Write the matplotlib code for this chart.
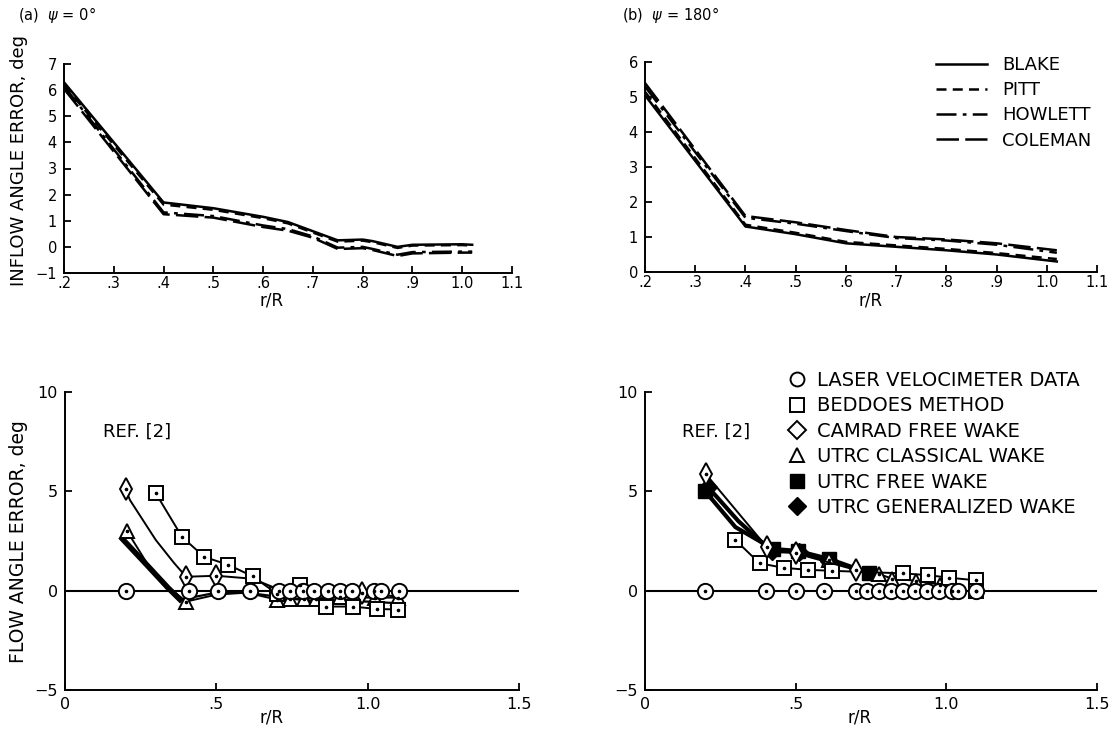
"""Inflow / flow angle error vs r/R, two azimuths (psi = 0 and 180 deg)"""

import matplotlib
matplotlib.use('Agg')
import matplotlib.pyplot as plt
from matplotlib.lines import Line2D

plt.rcParams['font.family'] = 'DejaVu Sans'
plt.rcParams['axes.linewidth'] = 1.4

# ---- top panels: inflow angle error for four inflow models ----
r_a = [0.2, 0.4, 0.5, 0.6, 0.65, 0.7, 0.75, 0.8, 0.82, 0.87, 0.9, 1.0, 1.02]
blake_a = [6.30, 1.70, 1.48, 1.15, 0.95, 0.60, 0.25, 0.28, 0.22, 0.00, 0.08, 0.10, 0.08]
pitt_a = [6.20, 1.62, 1.42, 1.10, 0.90, 0.55, 0.20, 0.24, 0.18, -0.04, 0.05, 0.07, 0.05]
howlett_a = [6.15, 1.32, 1.18, 0.82, 0.68, 0.40, -0.03, 0.00, -0.08, -0.30, -0.20, -0.18, -0.18]
coleman_a = [6.05, 1.25, 1.12, 0.76, 0.62, 0.35, -0.08, -0.05, -0.12, -0.35, -0.25, -0.22, -0.22]

r_b = [0.2, 0.4, 0.5, 0.6, 0.7, 0.8, 0.9, 1.02]
blake_b = [5.05, 1.30, 1.08, 0.82, 0.72, 0.62, 0.50, 0.30]
pitt_b = [5.15, 1.35, 1.12, 0.86, 0.76, 0.66, 0.54, 0.37]
howlett_b = [5.30, 1.55, 1.38, 1.17, 0.97, 0.90, 0.78, 0.55]
coleman_b = [5.40, 1.60, 1.42, 1.20, 1.00, 0.93, 0.82, 0.62]

model_names = ['BLAKE', 'PITT', 'HOWLETT', 'COLEMAN']
top_ticks = [0.2, 0.3, 0.4, 0.5, 0.6, 0.7, 0.8, 0.9, 1.0, 1.1]
top_ticklabels = ['.2', '.3', '.4', '.5', '.6', '.7', '.8', '.9', '1.0', '1.1']

# ---- bottom panels: flow angle error, REF. [2] ----
# psi = 0
lv_a_r = [0.20, 0.41, 0.505, 0.61, 0.707, 0.745, 0.785, 0.824, 0.869, 0.908, 0.947, 1.02, 1.045, 1.103]
bed_a_r = [0.30, 0.387, 0.46, 0.54, 0.62, 0.70, 0.776, 0.862, 0.95, 1.03, 1.10]
bed_a = [4.9, 2.7, 1.7, 1.3, 0.72, -0.15, 0.30, -0.80, -0.80, -0.92, -0.95]
cam_a_r = [0.20, 0.40, 0.50, 0.98]
cam_a = [5.1, 0.7, 0.75, -0.1]
cam_a_line_r = [0.20, 0.215, 0.30, 0.36, 0.40, 0.50, 0.62, 0.70, 0.98, 1.10]
cam_a_line = [5.1, 4.55, 2.55, 1.4, 0.7, 0.75, 0.6, 0.1, -0.1, -0.3]
cls_a_r = [0.205, 0.40, 0.70, 0.745, 0.79, 0.83, 0.91, 1.025, 1.10]
cls_a = [3.0, -0.55, -0.45, -0.40, -0.40, -0.40, -0.30, -0.35, -0.35]
cls_a_line_r = [0.205, 0.27, 0.34, 0.40, 0.50, 0.60, 0.70, 0.80, 0.90, 1.0, 1.10]
cls_a_line = [3.0, 1.4, 0.2, -0.55, -0.2, -0.1, -0.45, -0.4, -0.35, -0.35, -0.35]
utrc_a_line_r = [0.19, 0.27, 0.34, 0.38, 0.45, 0.50, 0.60, 0.70, 0.80, 0.90, 1.00, 1.12]
utrc_a_line = [2.6, 1.3, 0.15, -0.45, -0.25, -0.1, -0.1, -0.3, -0.5, -0.5, -0.55, -0.65]

# psi = 180
lv_b_r = [0.20, 0.40, 0.50, 0.593, 0.70, 0.737, 0.777, 0.817, 0.857, 0.897, 0.937, 0.977, 1.02, 1.04, 1.10]
bed_b_r = [0.30, 0.38, 0.46, 0.54, 0.62, 0.856, 0.94, 1.01, 1.10, 1.10]
bed_b = [2.55, 1.38, 1.15, 1.05, 1.00, 0.87, 0.78, 0.65, 0.52, 0.0]
cam_b_r = [0.203, 0.405, 0.50, 0.70]
cam_b = [5.85, 2.18, 1.88, 1.04]
cls_b_r = [0.61, 0.777, 0.82, 0.90, 0.98]
cls_b = [1.55, 0.84, 0.60, 0.50, 0.30]
free_b_r = [0.20, 0.425, 0.507, 0.61, 0.745]
free_b = [5.0, 2.10, 2.00, 1.60, 0.88]
free_b_line_r = [0.20, 0.30, 0.425, 0.507, 0.61, 0.745]
free_b_line = [5.0, 3.2, 2.10, 2.00, 1.60, 0.88]
gen_b_r = [0.21, 0.42, 0.51, 0.61]
gen_b = [5.2, 2.0, 1.95, 1.5]
gen_b_line_r = [0.21, 0.31, 0.42, 0.51, 0.61]
gen_b_line = [5.2, 3.5, 2.0, 1.95, 1.5]

bot_ticks = [0, 0.5, 1.0, 1.5]
bot_ticklabels = ['0', '.5', '1.0', '1.5']

W, H = 1115, 741
fig = plt.figure(figsize=(W / 100, H / 100), dpi=100)


def px_axes(left, right, top, bottom):
    """axes from pixel box of the reference image"""
    return fig.add_axes([left / W, 1 - bottom / H, (right - left) / W, (bottom - top) / H])


def style(ax, fs, xpad=5):
    for s in ['top', 'right']:
        ax.spines[s].set_visible(False)
    ax.tick_params(direction='in', length=5, width=1.3, labelsize=fs, pad=5)
    ax.tick_params(axis='x', pad=xpad)


styles = ['-', (0, (4, 2.5)), (0, (8, 2.5, 1.5, 2.5)), (0, (9, 2.5))]
lw_top = 1.8

ax1 = px_axes(64, 512, 64, 273)
for y, ls in zip([blake_a, pitt_a, howlett_a, coleman_a], styles):
    ax1.plot(r_a, y, color='k', lw=lw_top, ls=ls)
ax1.set_xlim(0.2, 1.1)
ax1.set_ylim(-1, 7)
ax1.set_xticks(top_ticks)
ax1.set_xticklabels(top_ticklabels)
ax1.set_yticks(range(-1, 8))
style(ax1, 10.5, xpad=2.5)

ax2 = px_axes(645, 1097, 62, 272)
for y, ls, nm in zip([blake_b, pitt_b, howlett_b, coleman_b], styles, model_names):
    ax2.plot(r_b, y, color='k', lw=lw_top, ls=ls, label=nm)
ax2.set_xlim(0.2, 1.1)
ax2.set_ylim(0, 6)
ax2.set_xticks(top_ticks)
ax2.set_xticklabels(top_ticklabels)
ax2.set_yticks(range(0, 7))
style(ax2, 10.5, xpad=2.5)
ax2.legend(loc='upper left', bbox_to_anchor=(936 / W, 1 - 56 / H),
           bbox_transform=fig.transFigure, frameon=False, fontsize=13,
           handlelength=2.8, handletextpad=0.85, labelspacing=0.4,
           borderpad=0, borderaxespad=0)

ms = 10
mk = dict(mfc='white', mec='k', mew=1.4, color='k', lw=1.4)
mk_nl = {k: v for k, v in mk.items() if k != 'lw'}


def dots(ax, x, y):
    ax.plot(x, y, ls='none', marker='o', ms=1.6, color='k', zorder=6)


ax3 = px_axes(65, 519, 392, 690)
ax3.axhline(0, color='k', lw=1.5, zorder=1)
ax3.plot(utrc_a_line_r[:4], utrc_a_line[:4], color='k', lw=4, zorder=2)
ax3.plot(utrc_a_line_r[3:], utrc_a_line[3:], color='k', lw=1.6, zorder=2)
ax3.plot(cls_a_line_r, cls_a_line, color='k', lw=1.4, zorder=2)
ax3.plot(cls_a_r, cls_a, ls='none', marker='^', ms=ms, zorder=3, **mk_nl)
ax3.plot(cam_a_line_r, cam_a_line, color='k', lw=1.4, zorder=2)
ax3.plot(cam_a_r, cam_a, ls='none', marker='d', ms=ms + 1, zorder=3, **mk_nl)
ax3.plot(bed_a_r, bed_a, marker='s', ms=ms, zorder=4, **mk)
ax3.plot(lv_a_r, [0] * len(lv_a_r), ls='none', marker='o', ms=ms + 1, zorder=5, **mk_nl)
for x, y in [(cls_a_r, cls_a), (cam_a_r, cam_a), (bed_a_r, bed_a), (lv_a_r, [0] * len(lv_a_r))]:
    dots(ax3, x, y)
ax3.set_xlim(0, 1.5)
ax3.set_ylim(-5, 10)
ax3.set_xticks(bot_ticks)
ax3.set_xticklabels(bot_ticklabels)
ax3.set_yticks([-5, 0, 5, 10])
style(ax3, 11.5)
ax3.text(0.125, 8.0, 'REF. [2]', fontsize=13, va='center')

ax4 = px_axes(645, 1097, 392, 690)
ax4.axhline(0, color='k', lw=1.5, zorder=1)
ax4.plot(free_b_line_r, free_b_line, color='k', lw=3, zorder=2)
ax4.plot(gen_b_line_r, gen_b_line, color='k', lw=3, zorder=2)
ax4.plot(free_b_r, free_b, ls='none', marker='s', ms=ms, mfc='k', mec='k', zorder=3)
ax4.plot(gen_b_r, gen_b, ls='none', marker='D', ms=ms - 1, mfc='k', mec='k', zorder=3)
ax4.plot(cls_b_r, cls_b, marker='^', ms=ms, zorder=3, **mk)
ax4.plot(bed_b_r[:-1], bed_b[:-1], marker='s', ms=ms, zorder=4, **mk)
ax4.plot(bed_b_r[-1:], bed_b[-1:], ls='none', marker='s', ms=ms, zorder=4, **mk_nl)
ax4.plot(cam_b_r, cam_b, marker='d', ms=ms + 1, zorder=5, **mk)
ax4.plot(lv_b_r, [0] * len(lv_b_r), ls='none', marker='o', ms=ms + 1, zorder=5, **mk_nl)
for x, y in [(cls_b_r, cls_b), (cam_b_r, cam_b), (bed_b_r, bed_b), (lv_b_r, [0] * len(lv_b_r))]:
    dots(ax4, x, y)
ax4.set_xlim(0, 1.5)
ax4.set_ylim(-5, 10)
ax4.set_xticks(bot_ticks)
ax4.set_xticklabels(bot_ticklabels)
ax4.set_yticks([-5, 0, 5, 10])
style(ax4, 11.5)
ax4.text(0.123, 8.0, 'REF. [2]', fontsize=13, va='center')

open_kw = dict(color='k', ls='none', mfc='white', mec='k', mew=1.4, ms=ms)
handles = [Line2D([], [], marker='o', **open_kw),
           Line2D([], [], marker='s', **open_kw),
           Line2D([], [], marker='D', **{**open_kw, 'ms': ms - 1}),
           Line2D([], [], marker='^', **open_kw),
           Line2D([], [], marker='s', color='k', ls='none', ms=ms),
           Line2D([], [], marker='D', color='k', ls='none', ms=ms - 1)]
labels = ['LASER VELOCIMETER DATA', 'BEDDOES METHOD', 'CAMRAD FREE WAKE',
          'UTRC CLASSICAL WAKE', 'UTRC FREE WAKE', 'UTRC GENERALIZED WAKE']
ax4.legend(handles, labels, loc='upper left', bbox_to_anchor=(786 / W, 1 - 371 / H),
           bbox_transform=fig.transFigure, frameon=False, fontsize=14,
           handlelength=1.1, handletextpad=0.5, labelspacing=0.33,
           borderpad=0, borderaxespad=0)

# panel captions and axis labels
fig.text(18 / W, 1 - 15 / H, '(a)  $\\psi$ = 0°', fontsize=10.5, va='center')
fig.text(622 / W, 1 - 15 / H, '(b)  $\\psi$ = 180°', fontsize=10.5, va='center')
fig.text(19 / W, 1 - 160 / H, 'INFLOW ANGLE ERROR, deg', fontsize=13, rotation=90,
         ha='center', va='center')
fig.text(19 / W, 1 - 542 / H, 'FLOW ANGLE ERROR, deg', fontsize=13.5, rotation=90,
         ha='center', va='center')
for x, y in [(272, 301), (871, 301), (272, 718), (860, 718)]:
    fig.text(x / W, 1 - y / H, 'r/R', fontsize=12, ha='center', va='center')

fig.savefig('out.png', dpi=100)
